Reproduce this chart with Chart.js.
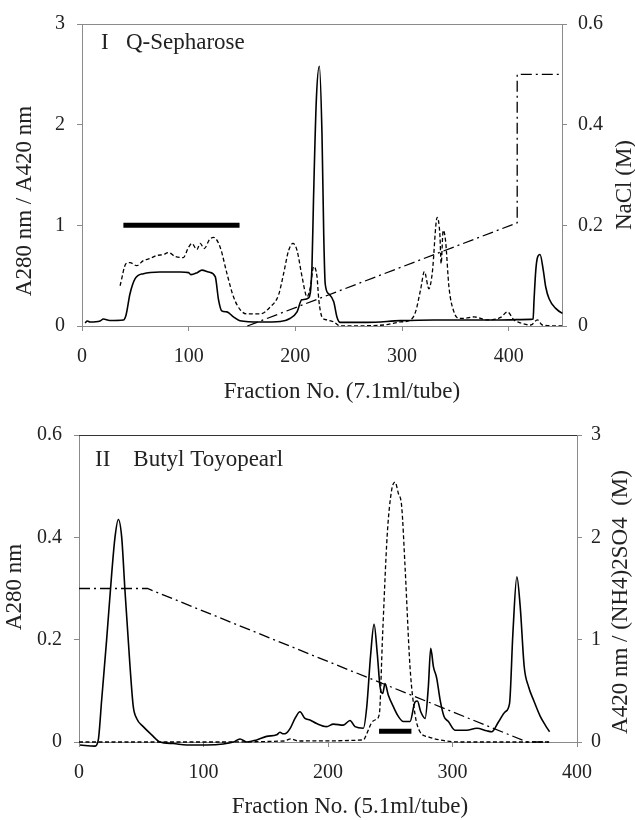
<!DOCTYPE html>
<html lang="en">
<head>
<meta charset="UTF-8" />
<title>Q-Sepharose / Butyl Toyopearl elution profiles</title>
<script src="https://cdn.jsdelivr.net/npm/chart.js"></script>
<style>
  body { margin: 0; background: #ffffff; }
  .wrap { position: relative; width: 635px; height: 820px; }
  canvas { position: absolute; left: 0; }
  #qChart { top: 0; }
  #butylChart { top: 400px; }
</style>
</head>
<body>
<div class="wrap">
  <canvas id="qChart" width="635" height="410"></canvas>
  <canvas id="butylChart" width="635" height="420"></canvas>
</div>
<script>
// ---- Panel I: Q-Sepharose ----
const qA280Frac = [2.8, 5, 7.5, 17, 20, 26, 38.8, 41.3, 45, 49.8, 57.6, 73, 92, 100, 102, 108, 112.4, 118.6, 124.9, 128, 131, 135.9, 142, 148, 167, 186, 195, 201.6, 206, 212.5, 215.6, 217, 219.7, 222.5, 225, 226.6, 228, 231.3, 236, 239, 242, 267, 298.6, 329.9, 392.5, 420.7, 422.9, 423.8, 425.4, 427, 429.4, 432.5, 434.7, 437.9, 444.1, 450.4, 456.6];
const qA280 = [0.03, 0.05, 0.04, 0.05, 0.07, 0.055, 0.06, 0.11, 0.32, 0.47, 0.52, 0.536, 0.536, 0.53, 0.51, 0.53, 0.555, 0.536, 0.49, 0.26, 0.15, 0.14, 0.09, 0.053, 0.04, 0.045, 0.075, 0.14, 0.26, 0.28, 0.59, 1.24, 2.25, 2.58, 1.9, 0.92, 0.42, 0.32, 0.24, 0.09, 0.036, 0.036, 0.053, 0.06, 0.06, 0.066, 0.07, 0.26, 0.55, 0.68, 0.71, 0.55, 0.39, 0.27, 0.175, 0.125, 0.1];

const qA420Frac = [35.7, 41.3, 45, 51.3, 57.6, 63.8, 70, 76.4, 81, 87.3, 95, 99.8, 103, 107.7, 110.8, 114.6, 119.6, 123.4, 129.6, 135.9, 142, 148.4, 154.6, 167, 176.5, 184.3, 189, 193.7, 197.8, 201.6, 206.3, 211, 214, 217.2, 220.3, 222, 225, 229.7, 236, 242, 283, 298.6, 308, 312.7, 317.4, 321, 325.2, 328.3, 333, 335.5, 336.7, 338.6, 340.8, 344, 348.7, 353.4, 358, 367.6, 380, 392.5, 398.8, 405, 411, 420.7, 427, 431.6, 450];
const qA420 = [0.40, 0.62, 0.63, 0.60, 0.65, 0.67, 0.70, 0.71, 0.73, 0.69, 0.68, 0.78, 0.82, 0.76, 0.82, 0.77, 0.86, 0.88, 0.78, 0.52, 0.29, 0.16, 0.12, 0.12, 0.19, 0.31, 0.52, 0.75, 0.82, 0.75, 0.49, 0.29, 0.38, 0.59, 0.49, 0.26, 0.09, 0.06, 0.04, 0.0, 0.01, 0.04, 0.06, 0.14, 0.36, 0.54, 0.37, 0.52, 1.08, 0.91, 0.62, 0.95, 0.85, 0.39, 0.14, 0.075, 0.075, 0.09, 0.06, 0.085, 0.14, 0.06, 0.03, 0.01, 0.06, 0.01, 0.0];

const qNaClFrac = [155, 408, 408, 450];
const qNaCl = [0, 0.205, 0.5, 0.5];

const qPoolFrac = [38.8, 147.7];
const qPoolLevel = [1.0, 1.0];

// ---- Panel II: Butyl Toyopearl ----
const bA280Frac = [0.8, 12.9, 15.5, 18.2, 22.2, 26.3, 28.9, 31.6, 34.3, 36.9, 41, 43.6, 46.3, 51.6, 58.4, 65, 75.7, 86.5, 102.6, 115.9, 124, 129.3, 134.7, 142.7, 150.7, 158.8, 161.4, 164.1, 166.8, 169.5, 173.5, 177.5, 181.5, 185.5, 190.9, 198.9, 204.3, 212.3, 217.7, 221.7, 228.4, 231.1, 234.3, 237, 239.6, 241.8, 243.9, 245.8, 248.4, 252.5, 256.5, 260.5, 265.9, 269.9, 271.8, 274.5, 278, 280.6, 282.5, 284.7, 287.3, 290, 293.2, 296.7, 302, 311.4, 319.5, 327.5, 331.5, 336.9, 342.3, 345.8, 348.5, 351.7, 354.4, 357.6, 361.1, 365.1, 370.5, 374.5, 378];
const bA280 = [-0.006, -0.008, 0.004, 0.082, 0.2, 0.33, 0.4, 0.435, 0.4, 0.297, 0.147, 0.069, 0.046, 0.03, 0.014, 0.0, -0.003, -0.006, -0.006, -0.004, 0.0, 0.006, 0.0, 0.004, 0.011, 0.014, 0.019, 0.016, 0.018, 0.026, 0.046, 0.059, 0.046, 0.043, 0.036, 0.03, 0.035, 0.033, 0.042, 0.03, 0.027, 0.068, 0.172, 0.23, 0.172, 0.108, 0.095, 0.114, 0.092, 0.069, 0.05, 0.04, 0.04, 0.078, 0.08, 0.059, 0.046, 0.108, 0.183, 0.147, 0.125, 0.083, 0.05, 0.04, 0.023, 0.023, 0.027, 0.022, 0.02, 0.039, 0.059, 0.075, 0.212, 0.323, 0.264, 0.147, 0.108, 0.082, 0.05, 0.033, 0.02];

const bA420Frac = [0, 100, 165, 170, 176, 228.4, 231.1, 235.1, 238.6, 241.2, 243.9, 247.6, 251.1, 253.8, 256.5, 259.2, 261.9, 265.9, 269.9, 273.9, 280.6, 290, 306, 377];
const bA420 = [0, 0, 0.01, 0.03, 0.01, 0.02, 0.08, 0.19, 0.22, 0.27, 1.06, 2.03, 2.46, 2.54, 2.43, 2.3, 1.71, 0.73, 0.27, 0.1, 0.05, 0.02, 0.0, 0.0];

const bSaltFrac = [0, 55, 360, 378];
const bSalt = [1.5, 1.5, 0, 0];

const bPoolFrac = [241, 267];
const bPoolLevel = [0.021, 0.021];

const SERIF = "'Liberation Serif', 'Times New Roman', serif";
const AXIS_GREY = '#8a8a8a';
Chart.defaults.font.family = SERIF;
Chart.defaults.color = '#222';

function pts(xs, ys) {
  return xs.map((x, i) => ({ x: x, y: ys[i] }));
}

// free text (axis titles, panel labels) and the top frame line
const freeText = {
  id: 'freeText',
  afterDraw(chart, args, opts) {
    const ctx = chart.ctx;
    const a = chart.chartArea;
    ctx.save();
    ctx.strokeStyle = opts.topColor;
    ctx.lineWidth = 1;
    ctx.beginPath();
    ctx.moveTo(a.left, Math.round(a.top) + 0.5);
    ctx.lineTo(a.right, Math.round(a.top) + 0.5);
    ctx.stroke();
    ctx.restore();
    (opts.items || []).forEach(it => {
      ctx.save();
      ctx.translate(it.x, it.y);
      ctx.rotate(it.rot || 0);
      ctx.font = '23px ' + SERIF;
      ctx.fillStyle = '#222';
      ctx.textAlign = it.align || 'center';
      ctx.textBaseline = 'middle';
      ctx.fillText(it.text, 0, 0);
      ctx.restore();
    });
  }
};

function xAxis(max, height) {
  return {
    type: 'linear', position: 'bottom', min: 0, max: max,
    ticks: { stepSize: 100, padding: 14, font: { size: 20 }, color: '#222' },
    afterBuildTicks: s => { s.ticks = s.ticks.filter(t => t.value % 100 === 0); },
    afterFit: s => { s.height = height; },
    grid: { drawOnChartArea: false, drawTicks: true, tickLength: 5, color: AXIS_GREY },
    border: { color: AXIS_GREY }
  };
}

function yAxis(pos, max, step, width, pad) {
  return {
    type: 'linear', position: pos, min: 0, max: max,
    ticks: { stepSize: step, padding: pad, font: { size: 20 }, color: '#222' },
    afterFit: s => { s.width = width; },
    grid: { drawOnChartArea: false, drawTicks: true, tickLength: 5, color: AXIS_GREY },
    border: { color: AXIS_GREY }
  };
}

const solid = { borderColor: '#000', borderWidth: 1.6, pointRadius: 0, cubicInterpolationMode: 'monotone' };
const dashed = { borderColor: '#000', borderWidth: 1.3, borderDash: [4, 2.5], pointRadius: 0, cubicInterpolationMode: 'monotone' };
const dashDot = { borderColor: '#000', borderWidth: 1.3, borderDash: [11, 4, 2, 4], pointRadius: 0, tension: 0 };
const poolBar = { borderColor: '#000', borderWidth: 5, borderCapStyle: 'butt', pointRadius: 0, tension: 0 };

new Chart(document.getElementById('qChart'), {
  type: 'line',
  data: {
    datasets: [
      Object.assign({ label: 'A280', data: pts(qA280Frac, qA280), yAxisID: 'y', clip: 8 }, solid),
      Object.assign({ label: 'A420', data: pts(qA420Frac, qA420), yAxisID: 'y' }, dashed),
      Object.assign({ label: 'NaCl', data: pts(qNaClFrac, qNaCl), yAxisID: 'y2', clip: 4 }, dashDot),
      Object.assign({ label: 'Pool', data: pts(qPoolFrac, qPoolLevel), yAxisID: 'y' }, poolBar)
    ]
  },
  options: {
    responsive: false,
    devicePixelRatio: 1,
    animation: false,
    layout: { padding: { top: 22, left: 0, right: 0, bottom: 0 } },
    scales: {
      x: xAxis(450, 84),
      y: yAxis('left', 3, 1, 82, 12),
      y2: yAxis('right', 0.6, 0.2, 73, 11)
    },
    plugins: {
      legend: { display: false },
      tooltip: { enabled: false },
      freeText: {
        topColor: AXIS_GREY,
        items: [
          { text: 'I   Q-Sepharose', x: 101, y: 43, align: 'left' },
          { text: 'A280 nm / A420 nm', x: 25, y: 201, rot: -Math.PI / 2 },
          { text: 'NaCl (M)', x: 625, y: 185, rot: -Math.PI / 2 },
          { text: 'Fraction No. (7.1ml/tube)', x: 342, y: 392 }
        ]
      }
    }
  },
  plugins: [freeText]
});

new Chart(document.getElementById('butylChart'), {
  type: 'line',
  data: {
    datasets: [
      Object.assign({ label: 'A280', data: pts(bA280Frac, bA280), yAxisID: 'y', clip: 6 }, solid),
      Object.assign({ label: 'A420', data: pts(bA420Frac, bA420), yAxisID: 'y2', clip: 4 }, dashed),
      Object.assign({ label: '(NH4)2SO4', data: pts(bSaltFrac, bSalt), yAxisID: 'y2', clip: 4 }, dashDot),
      Object.assign({ label: 'Pool', data: pts(bPoolFrac, bPoolLevel), yAxisID: 'y' }, poolBar)
    ]
  },
  options: {
    responsive: false,
    devicePixelRatio: 1,
    animation: false,
    layout: { padding: { top: 35, left: 0, right: 0, bottom: 0 } },
    scales: {
      x: xAxis(400, 78),
      y: yAxis('left', 0.6, 0.2, 79, 12),
      y2: yAxis('right', 3, 1, 58, 9)
    },
    plugins: {
      legend: { display: false },
      tooltip: { enabled: false },
      freeText: {
        topColor: '#333',
        items: [
          { text: 'II    Butyl Toyopearl', x: 95, y: 60, align: 'left' },
          { text: 'A280 nm', x: 15, y: 187, rot: -Math.PI / 2 },
          { text: 'A420 nm / (NH4)2SO4  (M)', x: 621, y: 202, rot: -Math.PI / 2 },
          { text: 'Fraction No. (5.1ml/tube)', x: 350, y: 407 }
        ]
      }
    }
  },
  plugins: [freeText]
});
</script>
</body>
</html>
